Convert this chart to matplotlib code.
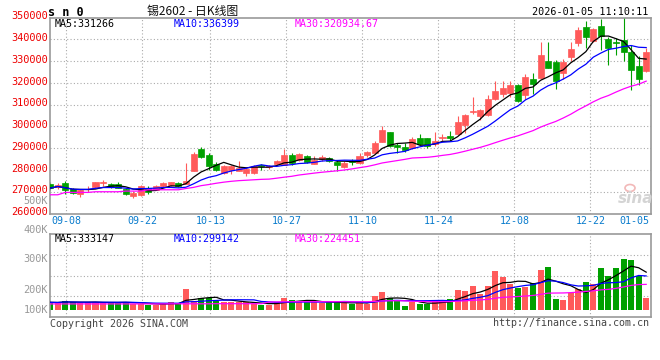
import matplotlib
matplotlib.use("Agg")
import matplotlib.pyplot as plt
import matplotlib.transforms as mtransforms
from matplotlib.patches import Ellipse
import numpy as np
import pandas as pd

# daily candles, 09-04 .. 01-05 (80 trading days)
opens = [273640, 271970, 273940, 271360, 268940, 271060, 271970, 274090, 273490, 273490,
         271210, 268180, 268330, 271820, 270910, 272420, 273030, 274240, 273640, 279700,
         289500, 287000, 282850, 278640, 280150, 279700, 278640, 278640, 282400, 281350,
         282700, 282400, 286920, 284660, 286460, 282850, 284960, 285710, 283600, 281530,
         284300, 283070, 286920, 288000, 293080, 297240, 291540, 290460, 290000, 294620,
         294620, 292000, 294800, 295400, 296600, 300800, 306600, 304800, 305300, 312600,
         314900, 315200, 319000, 314500, 321800, 322100, 330100, 329800, 324400, 332000,
         338500, 345800, 339400, 346200, 340200, 338800, 339900, 334400, 327800, 325700]
highs = [274390, 273940, 274850, 271670, 270910, 272420, 274700, 275450, 273940, 274700,
         271520, 270300, 273180, 272420, 273030, 274550, 274700, 274700, 283330, 288300,
         290700, 287670, 283460, 282400, 282400, 283910, 280900, 282400, 282700, 282400,
         284660, 289470, 287670, 287670, 286920, 286460, 286920, 286160, 284800, 284150,
         284920, 288000, 288610, 293390, 300320, 297550, 292310, 292310, 295390, 296620,
         294930, 297240, 296650, 297700, 304900, 305900, 313700, 308000, 314400, 321000,
         321000, 321000, 319500, 324100, 324400, 338900, 338900, 330500, 331000, 339000,
         345500, 348700, 345200, 349400, 341000, 340700, 351000, 337600, 332500, 336000]
lows = [270910, 271210, 269090, 268940, 267580, 269700, 271670, 272420, 271670, 271520,
        268330, 266970, 268180, 269090, 270610, 272120, 272730, 272120, 273330, 279400,
        285400, 280100, 279400, 278340, 278190, 279400, 277140, 278340, 279850, 280450,
        282400, 282100, 282400, 284360, 283160, 282550, 284360, 283610, 279700, 280760,
        282300, 282760, 286150, 287690, 292770, 290460, 288000, 288460, 289540, 291540,
        290000, 291080, 293100, 293100, 296200, 297200, 305600, 303200, 304800, 312200,
        313400, 313400, 311400, 312500, 314900, 321800, 326700, 317100, 322000, 329900,
        337000, 336100, 338900, 335000, 328200, 332800, 330100, 316800, 319100, 325200]
closes = [271670, 273180, 270610, 269240, 270610, 271360, 274390, 274390, 271970, 271820,
          268790, 269240, 272730, 269700, 272420, 274240, 274390, 272420, 275150, 287300,
          286160, 281950, 280150, 281950, 281650, 280900, 280450, 281650, 281650, 281950,
          284210, 286920, 283160, 287220, 283460, 284660, 286160, 283910, 282100, 283380,
          283690, 286460, 288310, 292620, 298470, 291080, 290460, 289230, 294160, 292000,
          291080, 293390, 295100, 294800, 302200, 305400, 306900, 307500, 312500, 316400,
          317500, 319000, 311900, 322900, 319500, 332800, 327000, 321000, 329800, 335700,
          344500, 340900, 344700, 341800, 335900, 338500, 334400, 325900, 321900, 334200]
# volume, thousands of lots
volumes = [71, 68, 83, 71, 68, 71, 74, 68, 68, 68,
           77, 59, 59, 45, 48, 65, 74, 65, 190, 83,
           112, 106, 83, 77, 71, 71, 71, 59, 48, 48,
           74, 112, 91, 83, 77, 71, 65, 71, 71, 65,
           59, 71, 59, 129, 164, 112, 80, 42, 77, 59,
           59, 83, 71, 100, 178, 170, 213, 141, 213, 347,
           294, 228, 193, 204, 236, 355, 378, 103, 91, 152,
           187, 248, 231, 370, 300, 370, 451, 439, 300, 109]
# MA30 for the first 29 days (history before the window)
ma30_head = [268600, 268600, 269700, 269700, 269700, 269700, 270000, 270000, 270000, 270000,
             270300, 270300, 270300, 270900, 270900, 270900, 270900, 270900, 271500, 272000,
             272800, 273300, 273900, 274400, 274800, 275100, 275300, 275500, 275700]
vol_ma30_head = [57, 57, 57, 57, 57, 57, 57, 57, 57, 57,
                 57, 57, 57, 57, 57, 57, 58, 58, 58, 58,
                 58, 58, 59, 59, 59, 59, 59, 59, 59]

tick_idx = [2, 12, 21, 31, 41, 51, 61, 71]
tick_labels = ["09-08", "09-22", "10-13", "10-27", "11-10", "11-24", "12-08", "12-22"]
last_label = "01-05"
price_ticks = list(range(260000, 350001, 10000))

RED = "#ff5a5a"
GREEN = "#00a000"
GRID = "#aaaaaa"
MONO = "DejaVu Sans Mono"

o = np.array(opens); c = np.array(closes)
x = np.arange(len(closes))
cols = np.where(c >= o, RED, GREEN)

cs = pd.Series(closes, dtype=float)
ma5 = cs.rolling(5, min_periods=1).mean()
ma10 = cs.rolling(10, min_periods=1).mean()
ma30 = cs.rolling(30).mean()
ma30[:29] = ma30_head
vs = pd.Series(volumes, dtype=float)
vma5 = vs.rolling(5, min_periods=1).mean()
vma10 = vs.rolling(10, min_periods=1).mean()
vma30 = vs.rolling(30).mean()
vma30[:29] = vol_ma30_head

W, H = 660, 360
fig = plt.figure(figsize=(6.6, 3.6), dpi=100)

def px_axes(left, top, right, bottom):
    return fig.add_axes([left / W, 1 - bottom / H, (right - left) / W, (bottom - top) / H])

def ptext(xp, yp, s, **kw):
    kw.setdefault("family", MONO)
    kw.setdefault("fontsize", 7.2)
    fig.text(xp / W, 1 - yp / H, s, **kw)

ax = px_axes(50, 17.7, 650.7, 213.5)
axv = px_axes(50, 234, 650.7, 317)

# grid columns sit on a 7.6px date step, candles on a slightly tighter one
grid_x = [(0.5 + 7.6 * k) / 7.544 for k in tick_idx]

for a in (ax, axv):
    a.set_xlim(-0.03, 79.6)
    a.set_xticks([]); a.set_yticks([])
    for s in a.spines.values():
        s.set_color("#999999"); s.set_linewidth(1.2)
    for gx in grid_x:
        a.axvline(gx, color=GRID, lw=0.8, ls=(0, (1, 2)), zorder=0)

ax.set_ylim(260000, 350000)
for p in price_ticks[1:-1]:
    ax.axhline(p, color=GRID, lw=0.8, ls=(0, (1, 2)), zorder=0)

# candles
ax.vlines(x, lows, highs, colors=cols, lw=0.8, zorder=2)
ax.bar(x, c - o, bottom=o, width=0.8, color=cols, edgecolor=cols, lw=0.5, zorder=3)
ax.plot(x, ma5, color="black", lw=0.9, zorder=4)
ax.plot(x, ma10, color="#0000ff", lw=0.9, zorder=4)
ax.plot(x, ma30, color="#ff00ff", lw=0.9, zorder=4)

# volume
axv.set_ylim(-57, 666)
for f in (0.25, 0.5, 0.75):
    axv.plot([0, 1], [f, f], transform=axv.transAxes, color=GRID, lw=0.8, ls=(0, (1, 2)), zorder=0)
axv.bar(x, volumes, width=0.8, color=cols, zorder=2)
axv.plot(x, vma5, color="black", lw=0.9, zorder=4)
axv.plot(x, vma10, color="#0000ff", lw=0.9, zorder=4)
axv.plot(x, vma30, color="#ff00ff", lw=0.9, zorder=4)

# price labels
ytr = mtransforms.offset_copy(ax.get_yaxis_transform(), fig=fig, y=-1.2, units="points")
for p in price_ticks:
    ax.text(-0.004, p, str(p), transform=ytr, ha="right", va="baseline",
            color="#ee0000", family=MONO, fontsize=7.4, clip_on=False)

# date labels
for gx, lab in zip(grid_x, tick_labels):
    ax.text(gx, -0.04, lab, transform=ax.get_xaxis_transform(), ha="center", va="center",
            color="#0a7ccd", family=MONO, fontsize=7.2, clip_on=False)
ax.text(0.997, -0.04, last_label, transform=ax.transAxes, ha="right", va="center",
        color="#0a7ccd", family=MONO, fontsize=7.2, clip_on=False)

# volume axis labels (as placed by the source chart)
ptext(48, 204.5, "500K", ha="right", va="baseline", color="#999999", fontsize=7.4)
ptext(48, 232.7, "400K", ha="right", va="baseline", color="#999999", fontsize=7.4)
ptext(48, 262, "300K", ha="right", va="baseline", color="#999999", fontsize=7.4)
ptext(48, 292.7, "200K", ha="right", va="baseline", color="#999999", fontsize=7.4)
ptext(48, 312.7, "100K", ha="right", va="baseline", color="#999999", fontsize=7.4)

# header
ptext(48, 12.3, "s n 0", ha="left", va="center", fontweight="bold", fontsize=8.5)
ptext(193, 11, "锡2602 - 日K线图", ha="center", va="center", fontsize=8.6,
      family=["Noto Sans CJK SC", "DejaVu Sans"], color="#111111")
ptext(648, 12, "2026-01-05 11:10:11", ha="right", va="center", fontsize=7.3)

ptext(55, 24, "MA5:331266", ha="left", va="center", color="black")
ptext(174, 24, "MA10:336399", ha="left", va="center", color="#0000ff")
ptext(295, 24, "MA30:320934.67", ha="left", va="center", color="#ff00ff")

ptext(55, 238.5, "MA5:333147", ha="left", va="center", color="black")
ptext(174, 238.5, "MA10:299142", ha="left", va="center", color="#0000ff")
ptext(295, 238.5, "MA30:224451", ha="left", va="center", color="#ff00ff")

ptext(50, 324, "Copyright 2026 SINA.COM", ha="left", va="center", color="#444444")
ptext(649, 323.5, "http://finance.sina.com.cn", ha="right", va="center", color="#444444")

# watermark: faint eye logo over "sina"
fig.add_artist(Ellipse((630 / W, 1 - 188 / H), 10 / W, 7 / H, transform=fig.transFigure,
                       facecolor="none", edgecolor="#f2b8b8", lw=1.2))
ptext(636, 198, "sina", ha="center", va="center", color="#d4d4d4", fontsize=11,
      family="DejaVu Sans", fontweight="bold", style="italic")

fig.savefig("out.png", dpi=100)
